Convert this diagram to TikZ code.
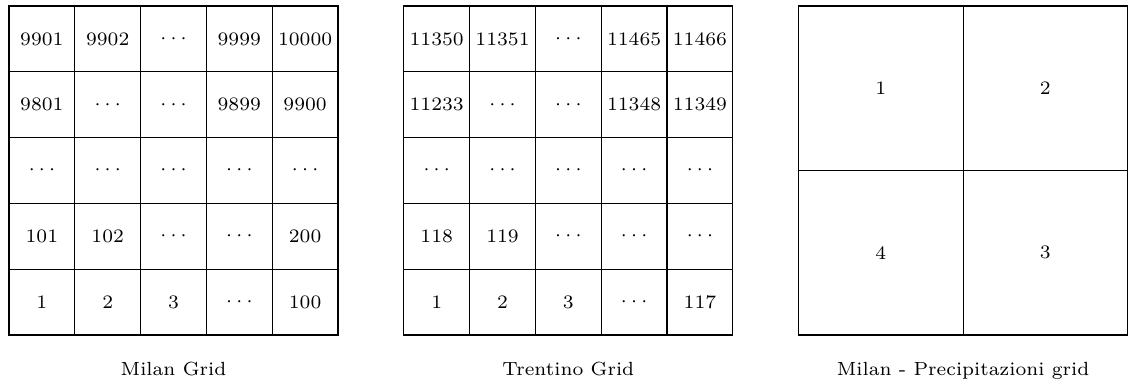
\documentclass[tikz,border=0pt]{standalone}
\begin{document}
\begin{tikzpicture}[x=0.85cm,y=0.85cm,
	cell/.style={draw,minimum size=0.85cm,inner sep=0pt,font=\scriptsize},
	bigcell/.style={cell,minimum size=2.125cm},
	caption/.style={anchor=base,font=\scriptsize}]
	\useasboundingbox (-0.137,-0.714) rectangle (17.127,5.091);
	% Milan grid
	\foreach \row [count=\r] in {{9901,9902,\cdots,9999,10000},{9801,\cdots,\cdots,9899,9900},{\cdots,\cdots,\cdots,\cdots,\cdots},{101,102,\cdots,\cdots,200},{1,2,3,\cdots,100}}
		\foreach \lab [count=\c] in \row
			\node [cell] (M\r\c) at (\c-0.5,5.5-\r) {$\lab$};
	% Trentino grid
	\foreach \row [count=\r] in {{11350,11351,\cdots,11465,11466},{11233,\cdots,\cdots,11348,11349},{\cdots,\cdots,\cdots,\cdots,\cdots},{118,119,\cdots,\cdots,\cdots},{1,2,3,\cdots,117}}
		\foreach \lab [count=\c] in \row
			\node [cell] (T\r\c) at (5.5+\c,5.5-\r) {$\lab$};
	% precipitation grid
	\node [bigcell] (P1) at (13.25,3.75) {1};
	\node [bigcell] (P2) at (15.75,3.75) {2};
	\node [bigcell] (P4) at (13.25,1.25) {4};
	\node [bigcell] (P3) at (15.75,1.25) {3};
	\node [caption] (milan) at (2.5,-0.61) {Milan Grid};
	\node [caption] (trentino) at (8.5,-0.61) {Trentino Grid};
	\node [caption] (prec) at (14.5,-0.61) {Milan - Precipitazioni grid};
\end{tikzpicture}
\end{document}
